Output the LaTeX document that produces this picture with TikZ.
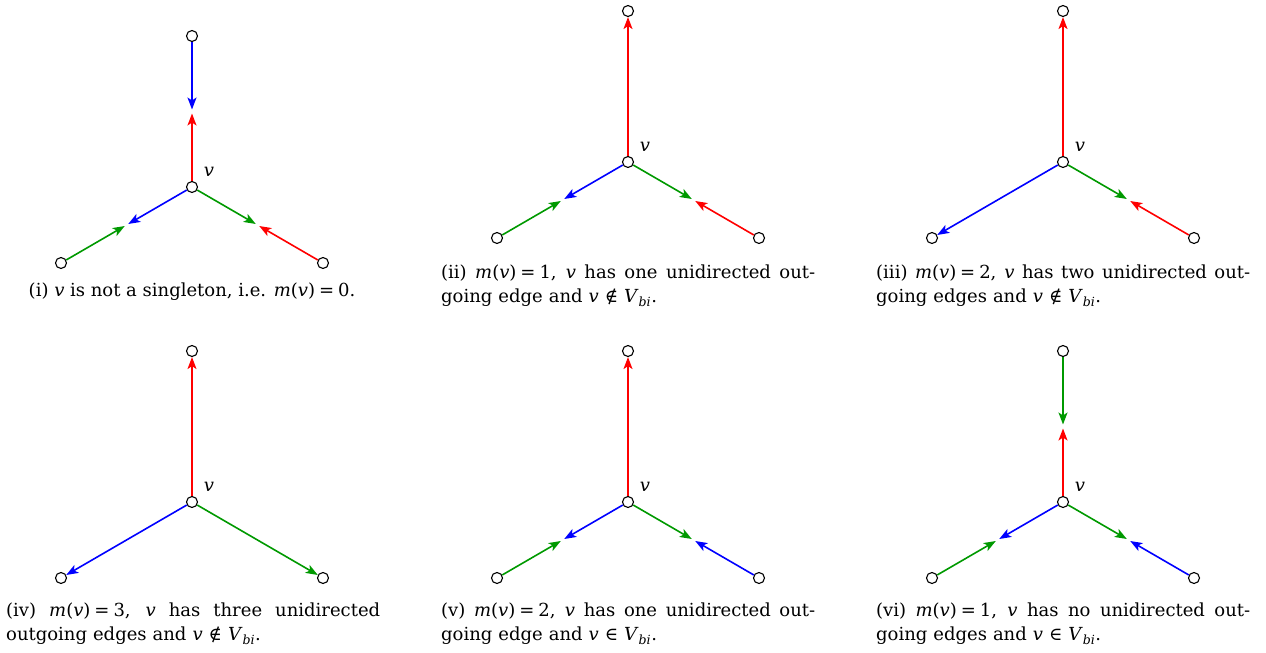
\documentclass[tikz,border=0pt]{standalone}
\usepackage{fontspec}
\setmainfont{DejaVu Serif}
\usetikzlibrary{calc,arrows.meta}
\definecolor{cred}{RGB}{255,0,0}
\definecolor{cblue}{RGB}{0,0,255}
\definecolor{cgreen}{RGB}{0,153,0}
\tikzset{
  vtx/.style={circle,draw=black,fill=white,line width=1.1pt,minimum size=11pt,inner sep=0pt},
  vlab/.style={inner sep=0pt,font=\fontsize{18}{22}\selectfont\itshape},
  arr/.style={line width=1.6pt,-{Stealth[length=12pt,width=9pt,inset=3pt]}},
  half/.style={arr,shorten >=2pt},
  captxt/.style={inner sep=0pt,font=\fontsize{18}{24}\selectfont,text width=374pt,align=left},
  capone/.style={inner sep=0pt,font=\fontsize{18}{24}\selectfont},
}
\newcommand\mkpanel[3]{%
  \node[vtx] (#1-c) at (#2,#3) {};
  \node[vtx] (#1-t) at ($(#2,#3)+(0,-151)$) {};
  \node[vtx] (#1-l) at ($(#2,#3)+(-131,76)$) {};
  \node[vtx] (#1-r) at ($(#2,#3)+(131,76)$) {};
  \node[vlab] (#1-v) at ($(#2,#3)+(17,-15)$) {v};
  \coordinate (#1-mt) at ($(#1-c)!0.5!(#1-t)$);
  \coordinate (#1-ml) at ($(#1-c)!0.5!(#1-l)$);
  \coordinate (#1-mr) at ($(#1-c)!0.5!(#1-r)$);
}
\newcommand\jline[1]{\makebox[374pt][s]{\spaceskip=0pt\xspaceskip=0pt\relax #1}}
\newcommand\vv{\textit{v}}
\newcommand\mv[1]{\mbox{\textit{m}(\textit{v})\kern0.22em=\kern0.22em#1}}
\newcommand\Vbi{\textit{V}\textsubscript{\textit{bi}}}
\begin{document}
\begin{tikzpicture}[x=1pt,y=-1pt]
\useasboundingbox (0,0) rectangle (1266,653);
% panels
\mkpanel{a}{192}{187}
\mkpanel{b}{628}{162}
\mkpanel{c}{1063}{162}
\mkpanel{d}{192}{502}
\mkpanel{e}{628}{502}
\mkpanel{f}{1063}{502}
% (i)
\draw[half,cblue] (a-t) -- (a-mt);
\draw[half,cred] (a-c) -- (a-mt);
\draw[half,cblue] (a-c) -- (a-ml);
\draw[half,cgreen] (a-l) -- (a-ml);
\draw[half,cgreen] (a-c) -- (a-mr);
\draw[half,cred] (a-r) -- (a-mr);
% (ii)
\draw[arr,cred] (b-c) -- (b-t);
\draw[half,cblue] (b-c) -- (b-ml);
\draw[half,cgreen] (b-l) -- (b-ml);
\draw[half,cgreen] (b-c) -- (b-mr);
\draw[half,cred] (b-r) -- (b-mr);
% (iii)
\draw[arr,cred] (c-c) -- (c-t);
\draw[arr,cblue] (c-c) -- (c-l);
\draw[half,cgreen] (c-c) -- (c-mr);
\draw[half,cred] (c-r) -- (c-mr);
% (iv)
\draw[arr,cred] (d-c) -- (d-t);
\draw[arr,cblue] (d-c) -- (d-l);
\draw[arr,cgreen] (d-c) -- (d-r);
% (v)
\draw[arr,cred] (e-c) -- (e-t);
\draw[half,cblue] (e-c) -- (e-ml);
\draw[half,cgreen] (e-l) -- (e-ml);
\draw[half,cgreen] (e-c) -- (e-mr);
\draw[half,cblue] (e-r) -- (e-mr);
% (vi)
\draw[half,cgreen] (f-t) -- (f-mt);
\draw[half,cred] (f-c) -- (f-mt);
\draw[half,cblue] (f-c) -- (f-ml);
\draw[half,cgreen] (f-l) -- (f-ml);
\draw[half,cgreen] (f-c) -- (f-mr);
\draw[half,cblue] (f-r) -- (f-mr);
% captions
\node[capone,anchor=base] (capa) at (192,296) {(i) \vv{} is not a singleton, i.e. \mv{0}.};
\node[captxt,anchor=north west] (capb) at (441,265) {\jline{(ii) \mv{1}, \vv{} has one unidirected out-}\\going edge and \vv{} ∉ \Vbi.};
\node[captxt,anchor=north west] (capc) at (876,265) {\jline{(iii) \mv{2}, \vv{} has two unidirected out-}\\going edges and \vv{} ∉ \Vbi.};
\node[captxt,anchor=north west] (capd) at (6,603) {\jline{(iv) \mv{3}, \vv{} has three unidirected}\\outgoing edges and \vv{} ∉ \Vbi.};
\node[captxt,anchor=north west] (cape) at (441,603) {\jline{(v) \mv{2}, \vv{} has one unidirected out-}\\going edge and \vv{} ∈ \Vbi.};
\node[captxt,anchor=north west] (capf) at (876,603) {\jline{(vi) \mv{1}, \vv{} has no unidirected out-}\\going edges and \vv{} ∈ \Vbi.};
\end{tikzpicture}
\end{document}
